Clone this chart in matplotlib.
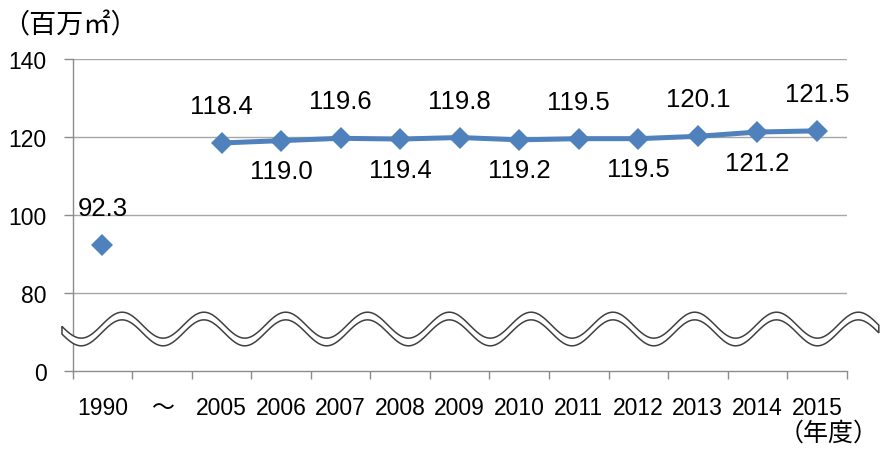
import numpy as np
import matplotlib
matplotlib.use("Agg")
import matplotlib.pyplot as plt
from matplotlib.patches import Polygon

# ---- data ----
categories = ["1990", "～", "2005", "2006", "2007", "2008", "2009",
              "2010", "2011", "2012", "2013", "2014", "2015"]
values = [92.3, np.nan, 118.4, 119.0, 119.6, 119.4, 119.8,
          119.2, 119.5, 119.5, 120.1, 121.2, 121.5]
label_above = [True, None, True, False, True, False, True,
               False, True, False, True, False, True]
ytick_values = [60, 80, 100, 120, 140]
ytick_labels = ["0", "80", "100", "120", "140"]

LATIN = ["Liberation Sans", "Noto Sans CJK JP", "DejaVu Sans"]
CJK = ["Noto Sans CJK JP", "DejaVu Sans"]
plt.rcParams["font.family"] = LATIN

BLUE = "#4F81BD"
GRID = "#A6A6A6"
AXIS = "#8C8C8C"

fig = plt.figure(figsize=(8.8, 4.52), dpi=100)
ax = fig.add_axes([0.0826, 0.1763, 0.8795, 0.692])

x = np.arange(len(categories))
ax.set_xlim(-0.5, len(categories) - 0.5)
ax.set_ylim(60, 140)

# gridlines
for yv in ytick_values[1:]:
    ax.axhline(yv, color=GRID, lw=1.0, zorder=1)

# series
ax.plot(x, values, color=BLUE, lw=3.6, marker="D", markersize=11,
        markeredgewidth=0, zorder=4, clip_on=False)

# data labels
for xi, v, up in zip(x, values, label_above):
    if np.isnan(v):
        continue
    off = 21.6 if up else -27.0
    ax.annotate(f"{v:.1f}", (xi, v), xytext=(0, off), textcoords="offset points",
                ha="center", va="baseline", fontsize=18.5, color="black", zorder=5)

# axes styling
for s in ("top", "right"):
    ax.spines[s].set_visible(False)
ax.spines["left"].set_color(AXIS)
ax.spines["bottom"].set_color(AXIS)
ax.spines["left"].set_linewidth(1.0)
ax.spines["bottom"].set_linewidth(1.0)

ax.set_yticks(ytick_values)
ax.set_yticklabels(ytick_labels, fontsize=16.5)
ax.tick_params(axis="y", direction="out", length=6.3, width=1.0, color=AXIS, pad=12.5)

ax.set_xticks(x)
ax.set_xticklabels(categories, fontsize=16.5)
ax.set_xticks(np.arange(-0.5, len(categories)), minor=True)
ax.tick_params(axis="x", which="major", length=0, pad=18)
ax.tick_params(axis="x", which="minor", direction="out", length=5.8, width=1.0, color=AXIS)

# wavy axis-break band
period = 1.374
phase = 0.33
xs = np.linspace(-0.68, 13.04, 600)
center = 70.82 + 3.32 * np.cos(2 * np.pi * (xs - phase) / period)
half = 0.98
upper = np.column_stack([xs, center + half])
lower = np.column_stack([xs[::-1], center[::-1] - half])
band = Polygon(np.vstack([upper, lower]), closed=True, facecolor="white",
               edgecolor="#404040", lw=1.1, zorder=3, clip_on=False)
ax.add_patch(band)

# unit labels
fig.text(70 / 880, 1 - 26 / 452, "（百万㎡）", family=CJK, fontsize=19.5,
         ha="center", va="center")
fig.text(829 / 880, 1 - 434 / 452, "（年度）", family=CJK, fontsize=18,
         ha="center", va="center")

fig.savefig("out.png", dpi=100)
